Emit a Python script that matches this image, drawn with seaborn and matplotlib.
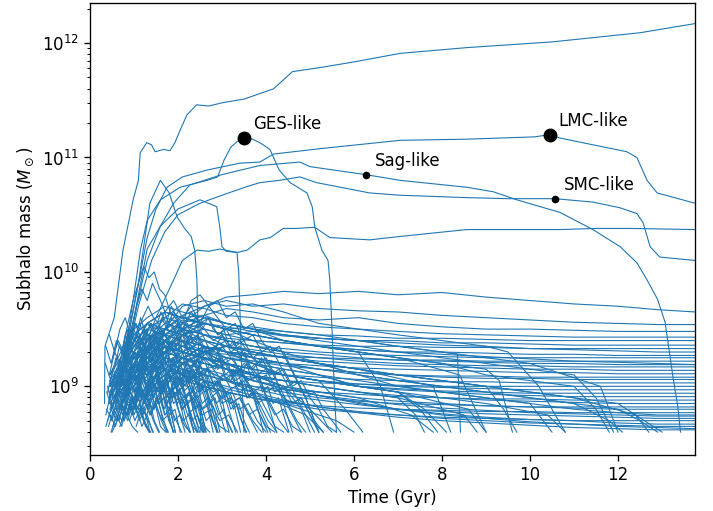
import numpy as np
import pandas as pd
import matplotlib
matplotlib.use("Agg")
import matplotlib.pyplot as plt
import seaborn as sns

# ---------------- data (log10 of subhalo mass vs time in Gyr) ----------------
host_t = [0.33, 0.34, 0.55, 0.75, 0.98, 1.1, 1.14, 1.29, 1.4, 1.48, 1.67, 1.82, 1.93, 2.05, 2.2,
          2.42, 2.7, 3.03, 3.5, 4.17, 4.4, 4.6, 5.3, 6.07, 7.05, 8.56, 10.5, 12.5, 13.75]
host_m = [8.85, 9.35, 9.6, 10.19, 10.63, 10.80, 11.04, 11.13, 11.11, 11.05, 11.07, 11.06, 11.13, 11.24, 11.37,
          11.46, 11.45, 11.48, 11.51, 11.60, 11.68, 11.75, 11.79, 11.84, 11.91, 11.96, 12.01, 12.09, 12.17]

ges_t = [0.5, 0.8, 1.0, 1.15, 1.3, 1.6, 2.05, 2.66, 2.9, 3.05, 3.2, 3.35, 3.5, 3.7, 3.9, 4.09, 4.3,
         4.55, 4.93, 5.05, 5.11, 5.27, 5.41, 5.45, 5.5, 5.55, 5.6]
ges_m = [8.9, 9.3, 9.8, 10.2, 10.45, 10.63, 10.74, 10.80, 10.83, 10.98, 11.09, 11.14, 11.17, 11.16, 11.12,
         11.07, 10.89, 10.78, 10.69, 10.57, 10.39, 10.19, 10.10, 9.93, 9.5, 9.0, 8.6]

lmc_t = [0.6, 0.9, 1.1, 1.3, 1.5, 1.75, 2.1, 2.66, 3.4, 3.86, 4.17, 5.3, 7.05, 8.56, 10.1, 10.45, 10.68,
         12.2, 12.43, 12.66, 12.89, 13.18, 13.75]
lmc_m = [9.0, 9.5, 9.9, 10.3, 10.55, 10.74, 10.83, 10.89, 10.95, 10.96, 11.03, 11.08, 11.15, 11.16, 11.18,
         11.20, 11.17, 11.05, 11.0, 10.80, 10.69, 10.66, 10.60]

sag_t = [0.7, 1.0, 1.3, 1.6, 1.9, 2.27, 3.0, 3.86, 4.77, 5.0, 6.27, 7.05, 8.56, 9.17, 9.7, 10.68, 11.43,
         12.05, 12.43, 12.66, 12.9, 13.07, 13.25, 13.36, 13.42]
sag_m = [9.1, 9.6, 10.1, 10.4, 10.6, 10.76, 10.85, 10.93, 10.96, 10.92, 10.85, 10.80, 10.74, 10.70, 10.63,
         10.52, 10.37, 10.22, 10.08, 9.93, 9.76, 9.56, 9.08, 8.82, 8.6]

smc_t = [0.8, 1.1, 1.4, 1.7, 2.0, 2.5, 3.0, 3.6, 3.86, 4.3, 4.77, 5.15, 6.36, 7.05, 8.5, 9.5, 10.57,
         11.43, 12.05, 12.43, 12.57, 12.73, 12.95, 13.75]
smc_m = [9.2, 9.7, 10.1, 10.35, 10.5, 10.6, 10.67, 10.75, 10.78, 10.80, 10.83, 10.78, 10.69, 10.67, 10.65,
         10.64, 10.64, 10.61, 10.56, 10.51, 10.43, 10.22, 10.13, 10.10]

q_t = [0.7, 1.0, 1.3, 1.6, 2.0, 2.5, 2.88, 2.95, 3.0, 3.1, 3.34, 3.57, 3.86, 4.1, 4.39, 4.7, 5.11, 5.45,
       6.36, 7.05, 8.56, 10.68, 11.5, 12.3, 13.75]
q_m = [9.1, 9.6, 10.2, 10.4, 10.55, 10.63, 10.57, 10.39, 10.22, 10.18, 10.17, 10.19, 10.28, 10.30, 10.38,
       10.38, 10.39, 10.30, 10.28, 10.31, 10.37, 10.37, 10.38, 10.38, 10.37]

p_t = [0.9, 1.2, 1.5, 1.9, 2.1, 2.43, 2.7, 2.95, 3.34, 3.38, 3.42, 3.47, 3.5]
p_m = [8.95, 9.3, 9.6, 9.93, 10.1, 10.19, 10.18, 10.2, 10.17, 10.0, 9.5, 8.9, 8.6]

r_t = [0.6, 0.9, 1.1, 1.25, 1.36, 1.6, 1.8, 1.98, 2.15, 2.3, 2.38, 2.43, 2.46, 2.5, 2.52]
r_m = [9.0, 9.5, 9.9, 10.3, 10.6, 10.80, 10.69, 10.48, 10.38, 10.31, 10.19, 9.93, 9.4, 8.9, 8.6]

# early-disrupted subhaloes: (first snapshot time, log mass every 0.12 Gyr)
early_dt = 0.12
early_tracks = [
    (0.50, [8.9, 9.1, 9.3, 9.55, 9.75, 9.9, 10.05, 9.95, 10.0, 9.85, 9.8, 9.65, 9.6, 9.5, 9.45, 9.3, 9.2, 9.1, 8.95, 8.8, 8.6]),
    (0.70, [9.0, 9.25, 9.45, 9.7, 9.85, 9.75, 9.9, 9.8, 9.7, 9.55, 9.5, 9.4, 9.25, 9.1, 8.9, 8.75, 8.6]),
    (0.60, [8.85, 9.1, 9.3, 9.5, 9.45, 9.6, 9.7, 9.6, 9.55, 9.45, 9.4, 9.3, 9.2, 9.1, 9.0, 8.9, 8.8, 8.6]),
    (0.36, [8.75, 8.95, 8.85, 9.05, 8.9, 9.1, 9.0, 9.2, 9.05, 8.95, 9.1, 8.9, 8.8, 8.95, 8.75, 8.65, 8.6]),
    (0.40, [9.0, 8.8, 9.05, 9.2, 9.1, 9.3, 9.15, 9.25, 9.05, 9.15, 8.95, 9.0, 8.8, 8.7, 8.6]),
    (0.42, [8.65, 8.8, 8.7, 8.9, 8.85, 8.7, 8.8, 8.65, 8.6]),
    (0.45, [8.9, 9.1, 9.0, 9.25, 9.35, 9.2, 9.4, 9.3, 9.45, 9.25, 9.3, 9.1, 9.2, 9.0, 8.9, 8.95, 8.75, 8.6]),
    (0.38, [8.8, 8.7, 8.9, 8.75, 8.95, 8.85, 9.0, 8.8, 8.9, 8.7, 8.6]),
    (0.50, [8.7, 8.9, 9.05, 8.95, 9.15, 9.0, 8.9, 9.05, 8.85, 8.95, 8.75, 8.8, 8.6]),
    (0.35, [9.2, 9.05, 9.25, 9.1, 9.3, 9.2, 9.05, 9.15, 8.95, 9.05, 8.85, 8.9, 8.7, 8.6]),
    (0.48, [8.6, 8.75, 8.65, 8.85, 8.8, 8.95, 8.75, 8.85, 8.7, 8.6]),
    (0.55, [8.85, 9.0, 8.9, 9.1, 9.2, 9.05, 9.15, 9.3, 9.15, 9.2, 9.0, 9.1, 8.95, 9.0, 8.85, 8.9, 8.7, 8.6]),
    (0.40, [8.95, 9.15, 9.05, 8.9, 9.0, 8.85, 9.0, 8.9, 8.75, 8.85, 8.65, 8.6]),
    (0.60, [8.7, 8.85, 8.75, 8.95, 9.1, 8.95, 9.05, 8.9, 9.0, 8.8, 8.9, 8.7, 8.75, 8.6]),
    (0.44, [9.1, 9.3, 9.2, 9.45, 9.35, 9.55, 9.4, 9.5, 9.35, 9.4, 9.2, 9.3, 9.1, 9.15, 8.95, 9.0, 8.8, 8.85, 8.65, 8.6]),
    (0.52, [8.65, 8.8, 8.9, 8.75, 8.85, 8.7, 8.8, 8.6]),
    (0.70, [8.8, 8.95, 9.1, 8.95, 9.05, 9.2, 9.05, 9.15, 8.95, 9.0, 8.85, 8.9, 8.7, 8.6]),
    (0.38, [8.95, 8.8, 9.0, 8.85, 9.05, 9.15, 9.0, 9.1, 8.95, 8.8, 8.9, 8.75, 8.8, 8.6]),
    (0.65, [9.0, 9.2, 9.1, 9.3, 9.15, 9.25, 9.05, 9.2, 9.0, 9.1, 8.9, 8.95, 8.8, 8.85, 8.65, 8.6]),
    (0.46, [8.75, 8.65, 8.85, 8.75, 8.9, 8.8, 8.65, 8.75, 8.6]),
    (0.80, [8.9, 9.05, 8.95, 9.15, 9.0, 9.1, 8.95, 9.05, 8.85, 8.95, 8.8, 8.7, 8.75, 8.6]),
    (0.36, [9.35, 9.2, 9.4, 9.3, 9.5, 9.35, 9.45, 9.25, 9.35, 9.15, 9.2, 9.0, 9.1, 8.9, 8.95, 8.75, 8.6]),
    (0.58, [8.8, 8.95, 8.85, 9.0, 8.9, 9.05, 8.9, 8.8, 8.9, 8.7, 8.6]),
    (0.90, [8.7, 8.85, 9.0, 8.9, 9.1, 8.95, 9.05, 8.9, 9.0, 8.85, 8.9, 8.75, 8.8, 8.65, 8.6]),
    (0.42, [8.85, 9.05, 8.95, 9.15, 9.05, 9.2, 9.1, 9.25, 9.1, 9.15, 8.95, 9.05, 8.9, 8.95, 8.8, 8.85, 8.7, 8.6]),
    (0.75, [9.1, 9.25, 9.15, 9.35, 9.25, 9.4, 9.3, 9.2, 9.3, 9.15, 9.2, 9.05, 9.1, 8.95, 9.0, 8.85, 8.9, 8.7, 8.6]),
    (0.50, [8.6, 8.7, 8.8, 8.7, 8.9, 8.8, 8.7, 8.6]),
    (1.00, [8.8, 8.95, 8.85, 9.0, 9.1, 8.95, 9.05, 8.9, 8.95, 8.8, 8.85, 8.7, 8.75, 8.6]),
    (0.62, [8.9, 9.1, 9.25, 9.15, 9.3, 9.2, 9.1, 9.2, 9.05, 9.15, 8.95, 9.0, 8.85, 8.9, 8.75, 8.6]),
    (0.40, [8.7, 8.85, 8.95, 8.8, 8.9, 8.75, 8.85, 8.7, 8.6]),
    (1.10, [9.0, 9.15, 9.05, 9.2, 9.1, 9.25, 9.1, 9.15, 9.0, 9.05, 8.9, 8.95, 8.8, 8.85, 8.7, 8.6]),
    (0.55, [9.15, 9.35, 9.25, 9.5, 9.4, 9.6, 9.45, 9.55, 9.4, 9.45, 9.3, 9.35, 9.2, 9.25, 9.1, 9.15, 9.0, 9.05, 8.9, 8.8, 8.6]),
    (0.85, [8.75, 8.9, 8.8, 8.95, 8.85, 9.0, 8.85, 8.9, 8.75, 8.8, 8.6]),
    (1.20, [8.85, 9.0, 8.9, 9.05, 8.95, 9.1, 9.0, 9.05, 8.9, 8.95, 8.8, 8.85, 8.7, 8.75, 8.6]),
    (0.45, [9.05, 8.9, 9.1, 9.0, 9.2, 9.05, 9.15, 8.95, 9.05, 8.9, 8.95, 8.8, 8.6]),
    (1.40, [9.0, 9.1, 9.2, 9.1, 9.25, 9.15, 9.2, 9.05, 9.1, 8.95, 9.0, 8.85, 8.9, 8.75, 8.6]),
    (0.68, [8.65, 8.8, 8.95, 8.85, 9.0, 8.9, 8.8, 8.9, 8.75, 8.6]),
    (1.30, [8.8, 8.95, 8.85, 9.0, 8.9, 9.05, 8.95, 8.85, 8.95, 8.8, 8.7, 8.6]),
    (0.52, [9.25, 9.4, 9.3, 9.5, 9.4, 9.55, 9.45, 9.35, 9.45, 9.3, 9.35, 9.2, 9.25, 9.1, 9.15, 9.0, 8.9, 8.95, 8.8, 8.6]),
    (1.60, [8.9, 9.05, 8.95, 9.1, 9.0, 9.15, 9.05, 8.95, 9.0, 8.85, 8.9, 8.75, 8.8, 8.6]),
    (0.95, [9.1, 9.25, 9.4, 9.3, 9.45, 9.35, 9.5, 9.35, 9.4, 9.25, 9.3, 9.15, 9.2, 9.05, 9.1, 8.95, 8.85, 8.9, 8.7, 8.6]),
    (1.80, [8.85, 9.0, 9.1, 9.0, 9.15, 9.05, 8.95, 9.05, 8.9, 8.95, 8.8, 8.7, 8.6]),
    (0.60, [8.8, 8.7, 8.85, 8.75, 8.9, 8.8, 8.7, 8.6]),
    (2.00, [9.0, 9.1, 9.05, 9.2, 9.1, 9.15, 9.0, 9.05, 8.9, 8.95, 8.8, 8.85, 8.7, 8.6]),
    (1.15, [9.3, 9.45, 9.55, 9.45, 9.6, 9.5, 9.55, 9.4, 9.45, 9.3, 9.35, 9.2, 9.25, 9.1, 9.0, 9.05, 8.9, 8.75, 8.6]),
    (2.30, [8.95, 9.05, 9.0, 9.1, 9.0, 9.05, 8.9, 8.95, 8.8, 8.85, 8.7, 8.6]),
    (0.78, [8.7, 8.85, 8.8, 8.95, 8.85, 8.75, 8.85, 8.7, 8.6]),
    (1.50, [9.15, 9.3, 9.2, 9.35, 9.25, 9.4, 9.3, 9.2, 9.25, 9.1, 9.15, 9.0, 9.05, 8.9, 8.95, 8.8, 8.6]),
    (2.60, [9.1, 9.2, 9.15, 9.25, 9.1, 9.15, 9.0, 9.05, 8.9, 8.95, 8.8, 8.7, 8.6]),
    (0.36, [8.65, 8.8, 8.7, 8.85, 8.75, 8.65, 8.6]),
    (1.25, [9.4, 9.55, 9.5, 9.65, 9.55, 9.7, 9.6, 9.5, 9.55, 9.4, 9.45, 9.3, 9.35, 9.2, 9.25, 9.1, 9.0, 8.9, 8.75, 8.6]),
    (2.90, [9.0, 9.1, 9.05, 9.15, 9.0, 9.05, 8.9, 8.95, 8.8, 8.7, 8.6]),
    (1.05, [8.65, 8.8, 8.75, 8.9, 8.8, 8.7, 8.75, 8.6]),
    (1.90, [9.2, 9.35, 9.3, 9.45, 9.35, 9.5, 9.4, 9.3, 9.35, 9.2, 9.25, 9.1, 9.15, 9.0, 8.9, 8.95, 8.8, 8.6]),
    (0.44, [9.45, 9.3, 9.5, 9.6, 9.45, 9.55, 9.4, 9.5, 9.3, 9.35, 9.2, 9.1, 9.15, 8.95, 9.0, 8.8, 8.6]),
    (3.20, [9.05, 9.15, 9.1, 9.2, 9.05, 9.1, 8.95, 9.0, 8.85, 8.9, 8.75, 8.6]),
    (2.20, [9.35, 9.45, 9.55, 9.5, 9.6, 9.5, 9.45, 9.5, 9.35, 9.4, 9.25, 9.3, 9.15, 9.2, 9.05, 8.9, 8.75, 8.6]),
]

# somewhat longer-lived early subhaloes: (first snapshot time, log mass every 0.2 Gyr)
extended_dt = 0.2
extended_tracks = [
    (0.80, [8.9, 9.1, 9.3, 9.2, 9.4, 9.3, 9.45, 9.35, 9.25, 9.35, 9.2, 9.25, 9.1, 9.15, 9.0, 8.95, 8.8, 8.65, 8.6]),
    (1.00, [9.0, 9.2, 9.35, 9.5, 9.4, 9.55, 9.45, 9.6, 9.5, 9.4, 9.45, 9.3, 9.35, 9.2, 9.1, 9.15, 9.0, 8.9, 8.75, 8.6]),
    (0.60, [8.8, 9.0, 8.9, 9.1, 9.2, 9.1, 9.25, 9.15, 9.05, 9.1, 8.95, 9.0, 8.9, 8.85, 8.9, 8.75, 8.6]),
    (1.30, [9.1, 9.25, 9.4, 9.3, 9.5, 9.65, 9.55, 9.7, 9.6, 9.5, 9.55, 9.4, 9.45, 9.3, 9.35, 9.2, 9.05, 8.9, 8.75, 8.6]),
    (0.70, [9.0, 9.2, 9.15, 9.35, 9.25, 9.4, 9.3, 9.2, 9.25, 9.1, 9.15, 9.05, 8.95, 9.0, 8.85, 8.7, 8.6]),
    (1.60, [8.95, 9.1, 9.05, 9.2, 9.1, 9.25, 9.15, 9.05, 9.1, 8.95, 9.0, 8.85, 8.9, 8.75, 8.8, 8.65, 8.6]),
    (0.90, [9.2, 9.4, 9.55, 9.45, 9.65, 9.75, 9.6, 9.7, 9.55, 9.6, 9.45, 9.5, 9.35, 9.4, 9.25, 9.3, 9.15, 9.0, 8.85, 8.7, 8.6]),
    (2.00, [9.05, 9.2, 9.1, 9.3, 9.2, 9.35, 9.25, 9.15, 9.2, 9.05, 9.1, 8.95, 9.0, 8.85, 8.9, 8.75, 8.6]),
    (0.55, [8.75, 8.9, 9.0, 8.9, 9.05, 8.95, 9.1, 9.0, 8.9, 8.95, 8.8, 8.85, 8.7, 8.75, 8.6]),
    (1.20, [8.85, 9.0, 8.95, 9.1, 9.0, 9.15, 9.05, 8.95, 9.0, 8.85, 8.9, 8.8, 8.85, 8.7, 8.6]),
    (2.40, [9.2, 9.35, 9.3, 9.45, 9.35, 9.4, 9.3, 9.2, 9.25, 9.1, 9.15, 9.0, 9.05, 8.9, 8.8, 8.65, 8.6]),
    (1.50, [9.3, 9.5, 9.65, 9.55, 9.75, 9.8, 9.7, 9.75, 9.6, 9.65, 9.5, 9.55, 9.4, 9.3, 9.35, 9.2, 9.05, 8.9, 8.7, 8.6]),
    (0.75, [8.7, 8.85, 8.8, 8.95, 9.05, 8.95, 9.0, 8.85, 8.9, 8.75, 8.8, 8.65, 8.6]),
    (2.80, [9.0, 9.1, 9.05, 9.15, 9.05, 9.1, 8.95, 9.0, 8.9, 8.85, 8.9, 8.75, 8.6]),
    (1.10, [9.1, 9.3, 9.2, 9.4, 9.3, 9.45, 9.35, 9.25, 9.3, 9.15, 9.2, 9.05, 9.1, 8.95, 9.0, 8.85, 8.7, 8.6]),
    (3.30, [9.1, 9.2, 9.15, 9.25, 9.1, 9.15, 9.0, 9.05, 8.9, 8.95, 8.8, 8.7, 8.6]),
    (0.65, [9.05, 9.25, 9.45, 9.35, 9.55, 9.45, 9.6, 9.5, 9.4, 9.45, 9.3, 9.35, 9.2, 9.25, 9.1, 9.0, 8.85, 8.7, 8.6]),
    (1.80, [8.9, 9.05, 9.0, 9.15, 9.05, 8.95, 9.0, 8.85, 8.9, 8.75, 8.8, 8.65, 8.6]),
]

# snapshot grid for longer-lived subhaloes
late_t = [0.45, 0.7, 1.0, 1.3, 1.7, 2.1, 2.6, 3.1, 3.7, 4.4, 5.2, 6.1, 7.0, 8.0, 9.0, 10.0,
          11.0, 12.0, 12.9, 13.75]

# disrupted at intermediate times: (first grid index, log masses, final (t, m) points)
mid_tracks = [
    (1, [9.0, 9.25, 9.4, 9.5, 9.45, 9.55, 9.5, 9.4, 9.3], [(4.9, 8.9), (5.2, 8.6)]),
    (0, [8.9, 9.1, 9.3, 9.2, 9.35, 9.3, 9.25, 9.2, 9.1, 9.0], [(5.0, 8.8), (5.5, 8.6)]),
    (2, [9.1, 9.35, 9.5, 9.6, 9.55, 9.5, 9.45, 9.4, 9.35, 9.3], [(6.6, 9.0), (6.9, 8.6)]),
    (1, [8.95, 9.2, 9.35, 9.3, 9.4, 9.35, 9.3, 9.2, 9.15, 9.1, 9.0, 8.95], [(7.5, 8.8), (7.9, 8.6)]),
    (0, [9.0, 9.2, 9.45, 9.55, 9.65, 9.6, 9.62, 9.55, 9.5, 9.45, 9.42, 9.4, 9.35, 9.3], [(8.35, 9.28), (8.42, 8.6)]),
    (3, [9.2, 9.5, 9.7, 9.75, 9.7, 9.72, 9.65, 9.55, 9.5, 9.45, 9.4, 9.35], [(9.5, 9.3), (10.2, 9.0), (10.8, 8.6)]),
    (1, [9.1, 9.3, 9.2, 9.4, 9.3, 9.25, 9.15, 9.1, 9.0], [(4.8, 8.8), (5.0, 8.6)]),
    (2, [8.9, 9.1, 9.25, 9.2, 9.3, 9.2, 9.1, 9.05, 9.0, 8.95, 8.9], [(7.4, 8.75), (7.6, 8.6)]),
    (0, [8.95, 9.15, 9.35, 9.45, 9.4, 9.5, 9.45, 9.35, 9.3, 9.25, 9.2, 9.15, 9.1, 9.05, 9.0], [(9.4, 8.8), (9.7, 8.6)]),
    (4, [9.3, 9.5, 9.6, 9.55, 9.5, 9.48, 9.45, 9.4, 9.35, 9.3, 9.25, 9.2], [(11.6, 9.0), (12.0, 8.6)]),
    (1, [9.05, 9.3, 9.45, 9.4, 9.5, 9.4, 9.35, 9.3, 9.25, 9.2, 9.1, 9.05, 9.0, 8.95, 8.9, 8.85], [(11.8, 8.7), (12.1, 8.6)]),
    (2, [9.0, 9.2, 9.3, 9.25, 9.35, 9.3, 9.25, 9.2, 9.1, 9.05, 9.0, 8.95, 8.9, 8.85], [(10.5, 8.6)]),
    (0, [9.1, 9.3, 9.5, 9.6, 9.7, 9.65, 9.6, 9.55, 9.5, 9.45, 9.4, 9.35, 9.3, 9.25, 9.2, 9.15, 9.1], [(11.5, 8.9), (11.9, 8.6)]),
    (3, [9.0, 9.2, 9.3, 9.25, 9.2, 9.15, 9.1, 9.05], [(5.8, 8.8), (6.2, 8.6)]),
    (1, [8.9, 9.1, 9.2, 9.15, 9.25, 9.2, 9.15, 9.05, 9.0, 8.95, 8.9], [(7.3, 8.75), (7.8, 8.6)]),
    (2, [9.2, 9.4, 9.55, 9.5, 9.6, 9.55, 9.5, 9.4, 9.35, 9.3, 9.25, 9.2, 9.15], [(9.3, 9.05), (9.6, 8.6)]),
    (0, [8.85, 9.0, 9.15, 9.1, 9.2, 9.15, 9.05, 9.0, 8.95], [(4.9, 8.75), (5.3, 8.6)]),
    (3, [9.1, 9.3, 9.45, 9.4, 9.35, 9.3, 9.25, 9.2, 9.15, 9.1, 9.05, 9.0, 8.95, 8.9], [(12.4, 8.75), (12.7, 8.6)]),
    (1, [9.0, 9.2, 9.35, 9.45, 9.4, 9.3, 9.35, 9.25, 9.2, 9.15, 9.1, 9.05, 9.0, 8.95, 8.9, 8.85, 8.8], [(12.5, 8.7), (12.9, 8.6)]),
    (2, [8.95, 9.15, 9.3, 9.25, 9.35, 9.25, 9.2, 9.15, 9.1, 9.0, 8.95], [(7.6, 8.8), (8.1, 8.6)]),
    (4, [9.0, 9.2, 9.3, 9.25, 9.2, 9.1, 9.05, 9.0, 8.95], [(8.6, 8.8), (9.0, 8.6)]),
    (0, [9.0, 9.25, 9.4, 9.35, 9.5, 9.45, 9.4, 9.35, 9.3, 9.25, 9.2, 9.15, 9.1, 9.05, 9.0, 8.95, 8.9, 8.85], [(12.6, 8.7), (13.0, 8.6)]),
    (2, [9.05, 9.2, 9.35, 9.3, 9.4, 9.3, 9.25], [(4.2, 9.1), (4.6, 8.6)]),
    (3, [9.0, 9.15, 9.25, 9.2, 9.15, 9.1, 9.05, 9.0, 8.95, 8.9], [(8.5, 8.75), (8.8, 8.6)]),
    (1, [8.95, 9.1, 9.25, 9.2, 9.3, 9.25, 9.2, 9.15, 9.1, 9.05, 9.0, 8.95, 8.9, 8.85], [(10.4, 8.75), (10.8, 8.6)]),
    (5, [9.1, 9.3, 9.35, 9.3, 9.25, 9.2, 9.15], [(7.8, 9.0), (8.2, 8.6)]),
    (0, [8.8, 9.0, 9.1, 9.05, 9.15, 9.1, 9.0, 8.95, 8.9, 8.85], [(5.6, 8.7), (6.0, 8.6)]),
    (2, [9.1, 9.3, 9.5, 9.45, 9.55, 9.5, 9.45, 9.4, 9.35, 9.3, 9.25, 9.2, 9.1, 9.05, 9.0], [(11.5, 8.8), (11.8, 8.6)]),
    (1, [9.15, 9.35, 9.55, 9.65, 9.6, 9.55, 9.5, 9.45, 9.4, 9.35, 9.3, 9.25], [(8.4, 9.1), (9.0, 8.6)]),
]

# surviving to the present: (first grid index, log masses to 13.75 Gyr)
late_tracks = [
    (3, [8.90, 9.30, 9.55, 9.70, 9.78, 9.80, 9.83, 9.81, 9.83, 9.80, 9.82, 9.78, 9.75, 9.72, 9.70, 9.67, 9.65]),
    (1, [8.95, 9.20, 9.42, 9.50, 9.62, 9.70, 9.75, 9.70, 9.72, 9.68, 9.66, 9.65, 9.62, 9.60, 9.58, 9.56, 9.55, 9.54, 9.54]),
    (0, [9.00, 9.15, 9.35, 9.30, 9.45, 9.55, 9.62, 9.68, 9.65, 9.60, 9.58, 9.60, 9.55, 9.52, 9.50, 9.50, 9.49, 9.48, 9.48, 9.48]),
    (2, [9.10, 9.40, 9.60, 9.72, 9.68, 9.62, 9.60, 9.55, 9.52, 9.50, 9.48, 9.46, 9.45, 9.44, 9.43, 9.43, 9.43, 9.43]),
    (1, [9.05, 9.30, 9.50, 9.45, 9.58, 9.55, 9.50, 9.52, 9.48, 9.45, 9.44, 9.42, 9.42, 9.41, 9.40, 9.40, 9.40, 9.40, 9.40]),
    (0, [8.90, 9.10, 9.30, 9.45, 9.40, 9.55, 9.50, 9.45, 9.48, 9.44, 9.42, 9.40, 9.40, 9.38, 9.38, 9.37, 9.36, 9.36, 9.36, 9.36]),
    (2, [9.00, 9.25, 9.40, 9.35, 9.45, 9.42, 9.40, 9.38, 9.36, 9.35, 9.35, 9.34, 9.34, 9.33, 9.33, 9.33, 9.33, 9.33]),
    (1, [8.95, 9.15, 9.30, 9.40, 9.50, 9.55, 9.52, 9.48, 9.45, 9.42, 9.40, 9.38, 9.36, 9.35, 9.33, 9.32, 9.31, 9.30, 9.30]),
    (3, [9.10, 9.35, 9.45, 9.50, 9.45, 9.40, 9.38, 9.35, 9.32, 9.30, 9.30, 9.29, 9.28, 9.28, 9.27, 9.27, 9.27]),
    (0, [9.05, 9.20, 9.40, 9.50, 9.60, 9.55, 9.45, 9.40, 9.35, 9.33, 9.30, 9.28, 9.27, 9.26, 9.25, 9.25, 9.25, 9.25, 9.25, 9.25]),
    (2, [8.95, 9.15, 9.30, 9.25, 9.35, 9.30, 9.28, 9.26, 9.25, 9.24, 9.23, 9.23, 9.22, 9.22, 9.22, 9.22, 9.22, 9.22]),
    (1, [9.10, 9.35, 9.55, 9.65, 9.60, 9.55, 9.50, 9.45, 9.40, 9.35, 9.32, 9.30, 9.28, 9.26, 9.24, 9.22, 9.21, 9.20, 9.19]),
    (4, [9.00, 9.20, 9.30, 9.35, 9.32, 9.28, 9.25, 9.22, 9.20, 9.19, 9.18, 9.18, 9.17, 9.17, 9.17, 9.17]),
    (0, [8.95, 9.10, 9.25, 9.35, 9.30, 9.40, 9.35, 9.30, 9.28, 9.25, 9.22, 9.20, 9.18, 9.17, 9.16, 9.15, 9.15, 9.14, 9.14, 9.14]),
    (1, [9.00, 9.15, 9.30, 9.25, 9.35, 9.30, 9.25, 9.22, 9.20, 9.18, 9.16, 9.15, 9.14, 9.13, 9.12, 9.12, 9.11, 9.11, 9.11]),
    (3, [8.95, 9.10, 9.25, 9.30, 9.28, 9.22, 9.18, 9.15, 9.12, 9.10, 9.09, 9.09, 9.08, 9.08, 9.08, 9.08, 9.08]),
    (2, [9.05, 9.25, 9.45, 9.40, 9.35, 9.30, 9.25, 9.20, 9.15, 9.12, 9.10, 9.08, 9.07, 9.07, 9.06, 9.06, 9.06, 9.06]),
    (0, [8.90, 9.05, 9.20, 9.15, 9.30, 9.25, 9.20, 9.15, 9.12, 9.10, 9.08, 9.06, 9.05, 9.04, 9.04, 9.03, 9.03, 9.03, 9.03, 9.03]),
    (1, [8.85, 9.00, 9.15, 9.25, 9.20, 9.15, 9.10, 9.08, 9.05, 9.03, 9.02, 9.01, 9.00, 9.00, 9.00, 9.00, 9.00, 9.00, 9.00]),
    (5, [9.00, 9.15, 9.20, 9.15, 9.10, 9.05, 9.02, 9.00, 8.99, 8.98, 8.97, 8.97, 8.97, 8.97, 8.97]),
    (2, [9.00, 9.20, 9.35, 9.30, 9.25, 9.20, 9.15, 9.10, 9.05, 9.00, 8.98, 8.96, 8.95, 8.94, 8.94, 8.94, 8.94, 8.94]),
    (0, [9.10, 9.25, 9.45, 9.55, 9.50, 9.45, 9.35, 9.30, 9.20, 9.10, 9.05, 9.00, 8.97, 8.95, 8.93, 8.92, 8.91, 8.91, 8.91, 8.91]),
    (3, [8.90, 9.05, 9.15, 9.10, 9.05, 9.00, 8.97, 8.95, 8.93, 8.91, 8.90, 8.89, 8.89, 8.88, 8.88, 8.88, 8.88]),
    (1, [8.95, 9.10, 9.25, 9.20, 9.30, 9.25, 9.20, 9.10, 9.05, 9.00, 8.95, 8.92, 8.90, 8.88, 8.87, 8.86, 8.85, 8.85, 8.85]),
    (4, [8.90, 9.05, 9.10, 9.05, 9.00, 8.95, 8.90, 8.87, 8.85, 8.84, 8.83, 8.82, 8.82, 8.82, 8.82, 8.82]),
    (0, [9.00, 9.20, 9.35, 9.45, 9.40, 9.35, 9.30, 9.20, 9.10, 9.00, 8.95, 8.90, 8.87, 8.85, 8.83, 8.82, 8.81, 8.80, 8.80, 8.80]),
    (2, [8.85, 9.00, 9.10, 9.05, 9.00, 8.95, 8.90, 8.86, 8.83, 8.81, 8.80, 8.79, 8.78, 8.78, 8.77, 8.77, 8.77, 8.77]),
    (1, [9.00, 9.15, 9.30, 9.40, 9.35, 9.25, 9.15, 9.05, 8.98, 8.92, 8.88, 8.84, 8.81, 8.79, 8.77, 8.76, 8.75, 8.74, 8.74]),
    (3, [8.95, 9.10, 9.20, 9.15, 9.05, 8.98, 8.92, 8.88, 8.84, 8.80, 8.78, 8.76, 8.75, 8.74, 8.73, 8.72, 8.72]),
    (0, [8.85, 9.00, 9.15, 9.10, 9.20, 9.10, 9.00, 8.95, 8.90, 8.85, 8.80, 8.77, 8.75, 8.73, 8.72, 8.71, 8.70, 8.70, 8.70, 8.70]),
    (2, [9.05, 9.25, 9.40, 9.35, 9.30, 9.20, 9.10, 9.00, 8.92, 8.85, 8.80, 8.76, 8.73, 8.71, 8.70, 8.68, 8.67, 8.67]),
    (1, [8.90, 9.05, 9.20, 9.15, 9.10, 9.05, 8.98, 8.92, 8.87, 8.82, 8.78, 8.75, 8.72, 8.70, 8.68, 8.67, 8.66, 8.65, 8.65]),
    (4, [9.10, 9.20, 9.25, 9.15, 9.05, 8.98, 8.92, 8.86, 8.80, 8.75, 8.72, 8.69, 8.67, 8.65, 8.64, 8.63]),
    (0, [9.00, 9.15, 9.30, 9.25, 9.35, 9.25, 9.15, 9.05, 8.95, 8.88, 8.82, 8.77, 8.73, 8.70, 8.68, 8.66, 8.64, 8.63, 8.62, 8.62]),
    (6, [9.30, 9.40, 9.35, 9.30, 9.20, 9.10, 9.00, 8.95, 8.90, 8.85, 8.80, 8.77, 8.75, 8.75]),
    (2, [9.10, 9.30, 9.45, 9.50, 9.45, 9.40, 9.35, 9.30, 9.28, 9.25, 9.23, 9.22, 9.21, 9.20, 9.20, 9.19, 9.19, 9.19]),
]

# labelled objects
label_names = ["GES-like", "LMC-like", "Sag-like", "SMC-like"]
label_t = [3.5, 10.45, 6.27, 10.57]
label_m = [11.17, 11.20, 10.85, 10.64]
label_size = [9, 9, 4.5, 4.5]

# ---------------- assemble long table ----------------
rows = []
tid = 0


def add_track(ts, ms):
    global tid
    for t, m in zip(ts, ms):
        rows.append((tid, t, 10 ** m))
    tid += 1


for ts, ms in [(host_t, host_m), (ges_t, ges_m), (lmc_t, lmc_m), (sag_t, sag_m),
               (smc_t, smc_m), (q_t, q_m), (p_t, p_m), (r_t, r_m)]:
    add_track(ts, ms)

for t0, vals in early_tracks:
    add_track([t0 + early_dt * i for i in range(len(vals))], vals)

for t0, vals in extended_tracks:
    add_track([t0 + extended_dt * i for i in range(len(vals))], vals)

for i0, vals, tail in mid_tracks:
    ts = list(late_t[i0:i0 + len(vals)])
    ms = list(vals)
    for tt, mm in tail:
        if tt > ts[-1]:
            ts.append(tt)
            ms.append(mm)
    add_track(ts, ms)

for i0, vals in late_tracks:
    add_track(late_t[i0:i0 + len(vals)], vals)

df = pd.DataFrame(rows, columns=["track", "time", "mass"])

# ---------------- plot ----------------
BLUE = "#1f77b4"
fig = plt.figure(figsize=(7.13, 5.11), dpi=100)
ax = fig.add_axes([90 / 713, 1 - 455 / 511, 605 / 713, 452 / 511])

sns.lineplot(data=df, x="time", y="mass", units="track", estimator=None, sort=False,
             color=BLUE, linewidth=0.8, legend=False, ax=ax)

ax.set_yscale("log")
ax.set_xlim(0, 13.75)
ax.set_ylim(10 ** 8.40, 10 ** 12.35)

for name, t, m, s in zip(label_names, label_t, label_m, label_size):
    ax.plot([t], [10 ** m], "o", color="black", markersize=s, zorder=5)
    ax.annotate(name, (t, 10 ** m), xytext=(6.5, 10), textcoords="offset points",
                ha="left", va="center", fontsize=12, zorder=6)

ax.set_xticks([0, 2, 4, 6, 8, 10, 12])
ax.set_xlabel("Time (Gyr)", fontsize=12)
ax.set_ylabel(r"Subhalo mass ($M_\odot$)", fontsize=12)
ax.tick_params(axis="both", which="major", labelsize=12, length=4.2, width=0.96)
ax.tick_params(axis="both", which="minor", length=2.4, width=0.7)
for sp in ax.spines.values():
    sp.set_linewidth(0.96)

fig.savefig("out.png", dpi=100)
